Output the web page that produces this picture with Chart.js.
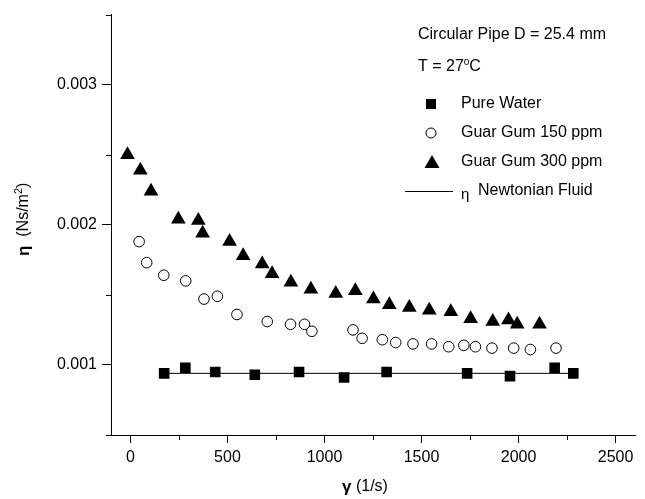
<!DOCTYPE html>
<html>
<head>
<meta charset="utf-8">
<script src="https://cdn.jsdelivr.net/npm/chart.js@4.4.0/dist/chart.umd.min.js"></script>
<style>
  html, body { margin: 0; padding: 0; background: #fff; }
  #wrap { width: 645px; height: 499px; }
</style>
</head>
<body>
<div id="wrap"><canvas id="viscChart"></canvas></div>
<script>
// shear rate (1/s) and viscosity (Ns/m2)
const waterX = [174, 283, 437, 641, 869, 1101, 1320, 1735, 1956, 2186, 2282];
const waterY = [0.00094, 0.00098, 0.00095, 0.00093, 0.00095, 0.00091, 0.00095, 0.00094, 0.00092, 0.00098, 0.00094];

const gg150X = [45, 84, 172, 285, 379, 448, 549, 705, 825, 897, 935, 1147, 1194, 1298, 1367, 1456, 1552, 1640, 1718, 1778, 1863, 1975, 2061, 2193];
const gg150Y = [0.00188, 0.00173, 0.00164, 0.0016, 0.00147, 0.00149, 0.00136, 0.00131, 0.00129, 0.00129, 0.00124, 0.00125, 0.00119, 0.00118, 0.00116, 0.00115, 0.00115, 0.00113, 0.00114, 0.00113, 0.00112, 0.00112, 0.00111, 0.00112];

const gg300X = [-15, 51, 106, 247, 350, 372, 511, 581, 679, 730, 827, 930, 1058, 1159, 1252, 1334, 1437, 1540, 1651, 1753, 1867, 1948, 1993, 2108];
const gg300Y = [0.0025, 0.00239, 0.00224, 0.00204, 0.00203, 0.00194, 0.00188, 0.00178, 0.00172, 0.00165, 0.00159, 0.00154, 0.00151, 0.00153, 0.00147, 0.00143, 0.00141, 0.00139, 0.00138, 0.00133, 0.00131, 0.00132, 0.00129, 0.00129];

const newtX = [174, 2282];
const newtY = [0.00094, 0.00094];

const xTicks = [0, 500, 1000, 1500, 2000, 2500];
const xMinorTicks = [250, 750, 1250, 1750, 2250];
const yTicks = [0.001, 0.002, 0.003];
const yMinorTicks = [0.0005, 0.0015, 0.0025, 0.0035];

const FONT = '"Liberation Sans", Arial, sans-serif';

function toPoints(xs, ys) {
  return xs.map((x, i) => ({ x: x, y: ys[i] }));
}

function drawRuns(ctx, runs, x, y) {
  runs.forEach((r) => {
    ctx.font = r.font;
    ctx.fillText(r.text, x, y + (r.dy || 0));
    x += ctx.measureText(r.text).width;
  });
}

// minor ticks, axis titles and the legend box text
const extras = {
  id: "extras",
  afterDraw(chart) {
    const ctx = chart.ctx;
    const xs = chart.scales.x;
    const ys = chart.scales.y;
    const area = chart.chartArea;

    ctx.save();
    ctx.strokeStyle = "#000";
    ctx.lineWidth = 1;
    ctx.beginPath();
    xMinorTicks.forEach((v) => {
      const px = Math.round(xs.getPixelForValue(v)) + 0.5;
      ctx.moveTo(px, area.bottom);
      ctx.lineTo(px, area.bottom + 5);
    });
    yMinorTicks.forEach((v) => {
      const py = Math.round(ys.getPixelForValue(v)) + 0.5;
      ctx.moveTo(area.left - 5, py);
      ctx.lineTo(area.left, py);
    });
    ctx.stroke();

    ctx.fillStyle = "#000";
    ctx.textBaseline = "middle";
    ctx.textAlign = "left";

    // x title
    drawRuns(ctx, [
      { text: "γ", font: "bold 17px " + FONT },
      { text: " (1/s)", font: "16px " + FONT },
    ], 342, 487);

    // y title
    ctx.save();
    ctx.translate(24, 256);
    ctx.rotate(-Math.PI / 2);
    drawRuns(ctx, [
      { text: "η", font: "bold 17px " + FONT },
      { text: "  (Ns/m", font: "16px " + FONT },
      { text: "2", font: "11px " + FONT, dy: -5 },
      { text: ")", font: "16px " + FONT },
    ], 0, 0);
    ctx.restore();

    drawRuns(ctx, [{ text: "Circular Pipe D = 25.4 mm", font: "16px " + FONT }], 418, 35);
    drawRuns(ctx, [
      { text: "T = 27", font: "16px " + FONT },
      { text: "o", font: "10px " + FONT, dy: -5 },
      { text: "C", font: "16px " + FONT },
    ], 418, 67);

    // legend markers
    ctx.fillRect(426, 99, 10, 10);
    ctx.beginPath();
    ctx.arc(431, 133, 5, 0, Math.PI * 2);
    ctx.fillStyle = "#fff";
    ctx.fill();
    ctx.stroke();
    ctx.fillStyle = "#000";
    ctx.beginPath();
    ctx.moveTo(432, 155);
    ctx.lineTo(439.5, 168);
    ctx.lineTo(424.5, 168);
    ctx.closePath();
    ctx.fill();
    ctx.beginPath();
    ctx.moveTo(405, 191.5);
    ctx.lineTo(453, 191.5);
    ctx.stroke();

    const lf = "16px " + FONT;
    drawRuns(ctx, [{ text: "Pure Water", font: lf }], 461, 104);
    drawRuns(ctx, [{ text: "Guar Gum 150 ppm", font: lf }], 461, 133);
    drawRuns(ctx, [{ text: "Guar Gum 300 ppm", font: lf }], 461, 162);
    drawRuns(ctx, [{ text: "η", font: "15px " + FONT, dy: 4 }], 461, 191);
    drawRuns(ctx, [{ text: "Newtonian Fluid", font: lf }], 478, 191);
    ctx.restore();
  },
};

const ctx = document.getElementById("viscChart").getContext("2d");
new Chart(ctx, {
  type: "scatter",
  data: {
    datasets: [
      {
        label: "Pure Water",
        data: toPoints(waterX, waterY),
        pointStyle: "rect",
        pointRadius: 7.5,
        backgroundColor: "#000",
        borderColor: "#000",
        borderWidth: 0,
        order: 1,
      },
      {
        label: "Guar Gum 150 ppm",
        data: toPoints(gg150X, gg150Y),
        pointStyle: "circle",
        pointRadius: 5.3,
        backgroundColor: "#fff",
        borderColor: "#000",
        borderWidth: 1,
        order: 2,
      },
      {
        label: "Guar Gum 300 ppm",
        data: toPoints(gg300X, gg300Y),
        pointStyle: "triangle",
        pointRadius: 8.5,
        backgroundColor: "#000",
        borderColor: "#000",
        borderWidth: 0,
        order: 3,
      },
      {
        label: "Newtonian Fluid",
        type: "line",
        data: toPoints(newtX, newtY),
        showLine: true,
        pointRadius: 0,
        borderColor: "#000",
        borderWidth: 1,
        order: 10,
      },
    ],
  },
  options: {
    responsive: true,
    maintainAspectRatio: false,
    animation: false,
    layout: { padding: { top: 8, right: 10, left: 0, bottom: 0 } },
    plugins: {
      legend: { display: false },
      tooltip: { enabled: false },
    },
    scales: {
      x: {
        type: "linear",
        min: -100,
        max: 2600,
        afterBuildTicks: (s) => {
          s.ticks = xTicks.map((v) => ({ value: v }));
        },
        afterFit: (s) => {
          s.height = 64;
        },
        grid: { drawOnChartArea: false, tickLength: 8, tickColor: "#000" },
        border: { color: "#000", width: 1 },
        ticks: {
          color: "#000",
          font: { family: FONT, size: 16 },
          padding: 5,
          maxRotation: 0,
          autoSkip: false,
          callback: (v) => String(v),
        },
      },
      y: {
        type: "linear",
        min: 0.0005,
        max: 0.0035,
        afterBuildTicks: (s) => {
          s.ticks = yTicks.map((v) => ({ value: v }));
        },
        afterFit: (s) => {
          s.width = 111;
        },
        grid: { drawOnChartArea: false, tickLength: 9, tickColor: "#000" },
        border: { color: "#000", width: 1 },
        ticks: {
          color: "#000",
          font: { family: FONT, size: 16 },
          padding: 5,
          callback: (v) => v.toFixed(3),
        },
      },
    },
  },
  plugins: [extras],
});
</script>
</body>
</html>
